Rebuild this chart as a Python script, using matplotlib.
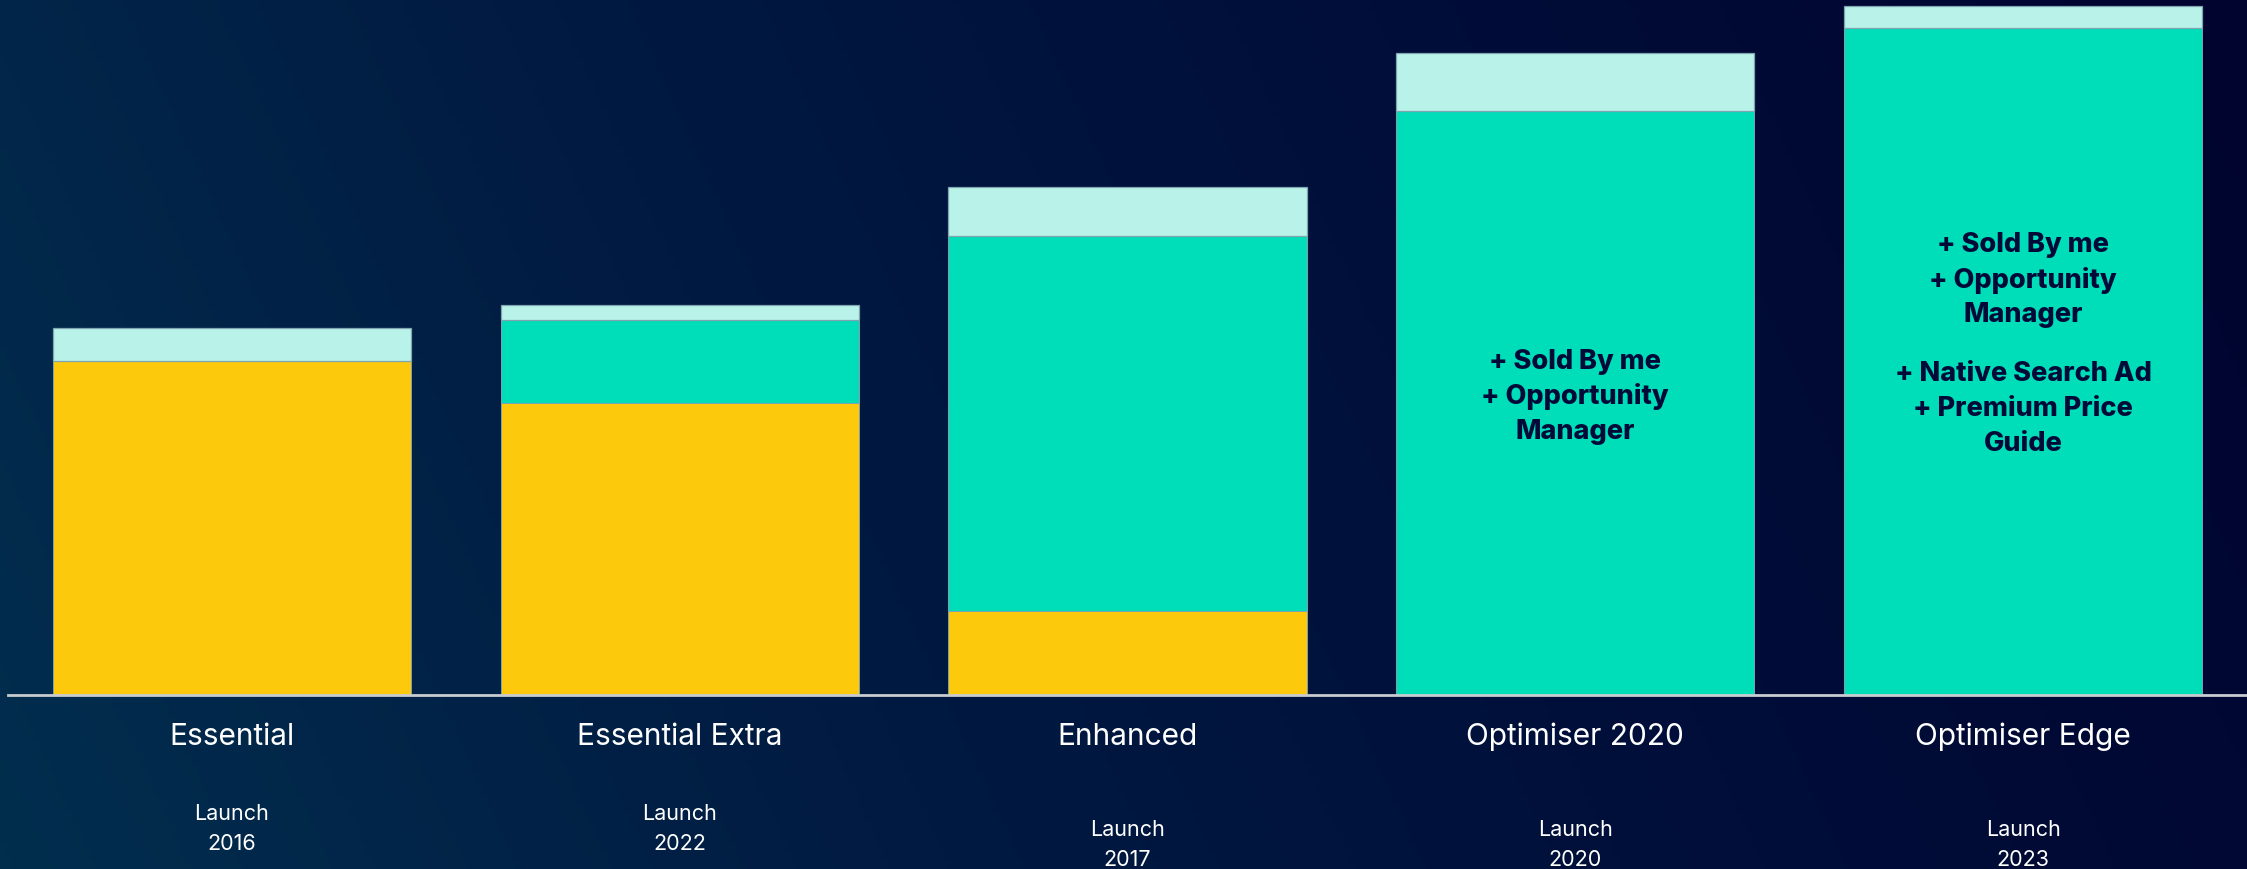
import numpy as np
import matplotlib.pyplot as plt
from matplotlib.colors import LinearSegmentedColormap
from matplotlib.transforms import blended_transform_factory

# Product tiers and their stacked components
products = ["Essential", "Essential Extra", "Enhanced", "Optimiser 2020", "Optimiser Edge"]
launch_years = ["2016", "2022", "2017", "2020", "2023"]
core = [334, 292, 84, 0, 0]          # yellow base
advanced = [0, 83, 375, 584, 667]    # teal middle
extras = [33, 15, 49, 58, 22]        # pale top

feature_notes = {
    3: ["+ Sold By me", "+ Opportunity", "Manager"],
    4: ["+ Sold By me", "+ Opportunity", "Manager", "",
        "+ Native Search Ad", "+ Premium Price", "Guide"],
}
note_start = {3: 696 - 362, 4: 696 - 245}

YELLOW = "#FCC90D"
TEAL = "#00DEB9"
PALE = "#B9F2E8"
EDGE = "#7FA3B0"
NAVY = "#000A38"
FONT = ["Inter", "DejaVu Sans"]

W, H = 2247, 870
fig = plt.figure(figsize=(W / 100, H / 100), dpi=100)

# Background gradient
bg = fig.add_axes([0, 0, 1, 1])
bg.set_axis_off()
xx, yy = np.meshgrid(np.linspace(0, 1, 400), np.linspace(0, 1, 200))
t = np.clip(0.85 * xx + 0.15 * yy, 0, 1)
cmap = LinearSegmentedColormap.from_list(
    "bgc", ["#022E4E", "#011B42", "#000E39", "#00042F"])
bg.imshow(t, cmap=cmap, aspect="auto", extent=[0, 1, 0, 1], origin="lower")

ax = fig.add_axes([8 / W, (H - 696) / H, 1 - 8 / W, 696 / H])
ax.patch.set_alpha(0)
x = np.arange(len(products))
bottom2 = np.array(core)
bottom3 = bottom2 + np.array(advanced)
ax.bar(x, core, width=0.8, color=YELLOW, edgecolor=EDGE, linewidth=0.7)
ax.bar(x, advanced, width=0.8, bottom=bottom2, color=TEAL, edgecolor=EDGE, linewidth=0.7)
ax.bar(x, extras, width=0.8, bottom=bottom3, color=PALE, edgecolor=EDGE, linewidth=0.9)

ax.set_xlim(-0.5, 4.5)
ax.set_ylim(0, 696)
for s in ["top", "right", "left"]:
    ax.spines[s].set_visible(False)
ax.spines["bottom"].set_color("#C8CCD0")
ax.spines["bottom"].set_linewidth(2)
ax.set_xticks([])
ax.set_yticks([])

# Feature notes inside the taller bars
line_step = 35
for i, lines in feature_notes.items():
    y = note_start[i]
    for ln in lines:
        if ln:
            ax.text(i, y, ln, ha="center", va="center", fontsize=19.5,
                    fontweight="heavy", family=FONT, color=NAVY)
            y -= line_step
        else:
            y -= 24

# Category labels and launch years below the axis
trans = blended_transform_factory(ax.transData, fig.transFigure)
launch_y = [(814, 844), (814, 844), (830, 860), (830, 860), (830, 860)]
for i, name in enumerate(products):
    ax.text(i, 1 - 737 / H, name, transform=trans, ha="center", va="center",
            fontsize=21.5, color="white", family=FONT)
    ly, yy_ = launch_y[i]
    ax.text(i, 1 - ly / H, "Launch", transform=trans, ha="center", va="center",
            fontsize=15.5, color="white", family=FONT)
    ax.text(i, 1 - yy_ / H, launch_years[i], transform=trans, ha="center", va="center",
            fontsize=15.5, color="white", family=FONT)

fig.savefig("out.png", dpi=100)
